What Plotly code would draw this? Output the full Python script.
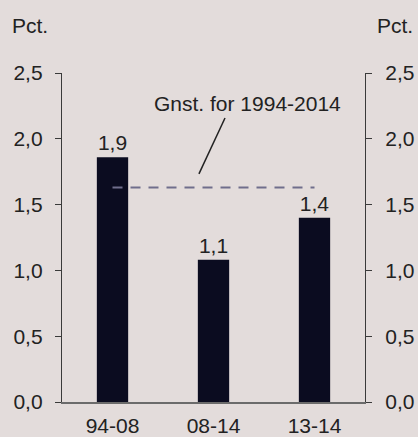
import plotly.graph_objects as go

categories = ["94-08", "08-14", "13-14"]
values = [1.86, 1.08, 1.40]
avg_value = 1.63
avg_label = "Gnst. for 1994-2014"
y_ticks = [0, 0.5, 1.0, 1.5, 2.0, 2.5]

bg = "#e3dcdb"
bar_color = "#0b0c20"
yaxis_color = "#3a3a3a"
xaxis_color = "#6b6b6b"
font = dict(family="Liberation Sans, Arial, sans-serif", size=21, color="#222222")

fig = go.Figure()
fig.add_trace(go.Bar(
    x=categories, y=values, marker=dict(color=bar_color, line=dict(width=0)),
    width=0.31, text=[f"{v:.1f}".replace(".", ",") for v in values],
    textposition="outside", textfont=dict(size=21, color="#222222"),
    cliponaxis=False, showlegend=False, hoverinfo="skip",
))
fig.add_trace(go.Scatter(
    x=[categories[0], categories[-1]], y=[avg_value, avg_value], mode="lines",
    line=dict(color="#706e8c", width=2.2, dash="10px,8px"), showlegend=False, hoverinfo="skip",
))
fig.add_trace(go.Scatter(
    x=[categories[0]], y=[0], yaxis="y2", mode="markers", marker=dict(opacity=0),
    showlegend=False, hoverinfo="skip",
))

axis_common = dict(
    range=[0, 2.5], tickvals=y_ticks, tickformat=".1f", showgrid=False, zeroline=False,
    showline=True, linecolor=yaxis_color, linewidth=1.3, ticks="outside", ticklen=6,
    tickcolor=yaxis_color, tickwidth=1.3, tickfont=font, automargin=False,
)
fig.update_layout(
    width=418, height=437, paper_bgcolor=bg, plot_bgcolor=bg,
    margin=dict(l=62, r=53, t=73, b=35), separators=",.", font=font,
    xaxis=dict(type="category", showgrid=False, zeroline=False, showline=True,
               linecolor=xaxis_color, linewidth=2, ticks="", tickfont=font,
               range=[-0.5, 2.5], automargin=False, ticklabelstandoff=4),
    yaxis=dict(side="left", ticklabelstandoff=8, **axis_common),
    yaxis2=dict(side="right", overlaying="y", ticklabelstandoff=9, **axis_common),
    annotations=[
        dict(text="Pct.", xref="paper", yref="paper", x=-0.172, y=1.143, xanchor="left",
             yanchor="middle", showarrow=False, font=font),
        dict(text="Pct.", xref="paper", yref="paper", x=1.165, y=1.143, xanchor="right",
             yanchor="middle", showarrow=False, font=font),
        dict(text=avg_label, xref="x", yref="y", x=1.34, y=2.27, showarrow=False,
             xanchor="center", yanchor="middle", font=font),
    ],
    shapes=[
        dict(type="line", xref="x", yref="y", x0=1.114, y0=2.158, x1=0.856, y1=1.733,
             line=dict(color="#222222", width=1.5)),
    ],
)

fig.write_html("out.html", config={"displayModeBar": False})

# remove default body margin so the figure fills the window exactly
with open("out.html", "r", encoding="utf-8") as f:
    html = f.read()
html = html.replace("<body>", '<body style="margin:0;padding:0;overflow:hidden;">', 1)
with open("out.html", "w", encoding="utf-8") as f:
    f.write(html)
